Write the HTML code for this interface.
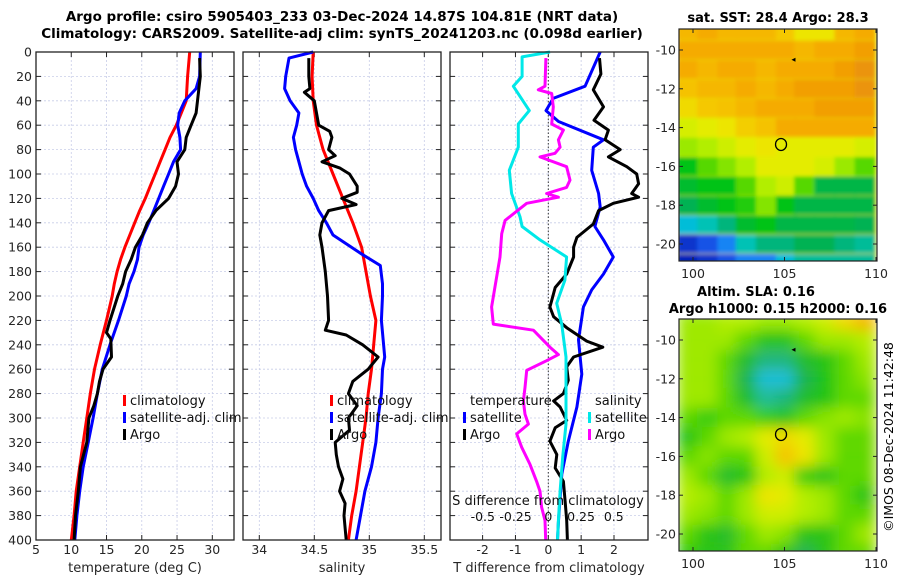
<!DOCTYPE html>
<html><head><meta charset="utf-8"><style>
html,body{margin:0;padding:0;background:#fff;}
svg{display:block;font-family:"DejaVu Sans","Liberation Sans",sans-serif;}
</style></head><body>
<svg id="fig" width="900" height="580" viewBox="0 0 900 580" xmlns="http://www.w3.org/2000/svg">
<defs>
<filter id="blur" x="0" y="0" width="1" height="1"><feGaussianBlur stdDeviation="7"/></filter>
<filter id="blur2" x="0" y="0" width="1" height="1"><feGaussianBlur stdDeviation="1.8"/></filter>
<clipPath id="clipTop"><rect x="679" y="29" width="198" height="232"/></clipPath>
<clipPath id="clipBot"><rect x="679" y="319" width="198" height="232"/></clipPath>
</defs>
<text x="342" y="21" font-size="13.5" font-weight="bold" text-anchor="middle">Argo profile: csiro 5905403_233 03-Dec-2024 14.87S 104.81E (NRT data)</text>
<text x="342" y="38" font-size="13.5" font-weight="bold" text-anchor="middle">Climatology: CARS2009. Satellite-adj clim: synTS_20241203.nc (0.098d earlier)</text>
<text x="778" y="22" font-size="13" font-weight="bold" text-anchor="middle">sat. SST: 28.4 Argo: 28.3</text>
<text x="756" y="296" font-size="13" font-weight="bold" text-anchor="middle">Altim. SLA: 0.16</text>
<text x="778" y="313" font-size="13" font-weight="bold" text-anchor="middle">Argo h1000: 0.15 h2000: 0.16</text>
<text transform="translate(893,437) rotate(-90)" font-size="12.5" text-anchor="middle">©IMOS 08-Dec-2024 11:42:48</text>
</svg>
<script>
// ---------- Temperature panel data ----------
const depthTClim = [0,20,30,40,50,60,70,80,90,100,110,120,130,140,150,160,170,180,190,200,220,240,260,280,300,320,340,360,380,400];
const tempClim = [26.8,26.5,26.4,26.3,25.6,24.9,24.0,23.3,22.6,21.9,21.2,20.5,19.7,19.0,18.3,17.6,17.0,16.5,16.1,15.8,15.0,14.1,13.3,12.7,12.2,11.7,11.2,10.7,10.4,10.0];
const tempSat = [28.3,28.2,27.7,26.1,25.3,25.1,25.4,25.5,24.5,23.8,23.1,22.4,21.7,21.0,20.2,19.6,19.4,18.9,18.2,17.8,16.7,15.5,14.4,13.7,13.1,12.4,11.7,11.2,10.8,10.5];
const depthTArgo = [5,20,30,40,50,60,70,80,90,100,110,120,130,140,150,160,170,180,190,200,220,230,235,250,260,270,280,290,300,320,340,360,380,400];
const tempArgo = [28.2,28.3,28.1,27.9,27.7,27.0,26.3,26.1,25.0,25.2,24.8,23.8,22.0,20.8,20.1,19.1,18.5,17.7,17.3,16.6,15.5,15.0,15.6,15.7,14.5,14.0,13.7,13.2,12.5,12.2,11.3,11.0,10.6,10.4];
const tempTicks = [5,10,15,20,25,30];
// ---------- Salinity panel data ----------
const depthSClim = [0,20,40,60,80,100,120,140,160,180,200,220,240,260,280,300,320,340,360,380,400];
const salClim = [34.49,34.48,34.49,34.52,34.58,34.67,34.76,34.85,34.93,34.97,35.01,35.06,35.04,35.02,34.99,34.97,34.94,34.91,34.88,34.84,34.81];
const depthSSat = [0,5,20,30,40,50,60,70,80,90,100,110,120,130,140,150,165,175,190,200,220,240,250,260,280,300,320,340,360,380,400];
const salSat = [34.49,34.27,34.24,34.23,34.28,34.36,34.34,34.31,34.33,34.36,34.39,34.43,34.49,34.54,34.61,34.67,34.92,35.10,35.12,35.12,35.11,35.13,35.14,35.12,35.11,35.08,35.06,35.02,34.96,34.92,34.88];
const depthSArgo = [5,20,30,33,40,50,60,65,70,80,85,90,95,100,110,115,120,125,130,140,150,160,180,200,220,228,232,240,250,260,270,280,290,300,310,320,330,340,350,360,370,380,400];
const salArgo = [34.45,34.45,34.46,34.41,34.50,34.52,34.54,34.64,34.66,34.63,34.69,34.57,34.73,34.82,34.89,34.89,34.75,34.88,34.63,34.57,34.55,34.57,34.60,34.62,34.63,34.60,34.79,34.94,35.08,34.99,34.85,34.81,34.89,34.81,34.82,34.69,34.70,34.72,34.76,34.73,34.78,34.77,34.79];
const salTicks = [34,34.5,35,35.5];
// ---------- Difference panel data ----------
const depthTdSat = [0,28,38,48,57,72,78,97,116,127,143,154,168,182,195,209,236,264,291,319,346,384,400];
const tDiffSat = [1.58,1.12,0.15,-0.07,0.31,1.68,1.37,1.32,1.53,1.58,1.42,1.68,1.98,1.68,1.32,1.07,0.92,1.02,0.87,0.61,0.41,0.31,0.28];
const depthTdArgo = [5,18,31,45,56,64,72,80,86,94,100,108,116,119,124,130,141,152,160,168,182,193,204,209,217,226,237,242,250,258,269,280,286,291,302,308,319,330,341,352,368,384,400];
const tDiffArgo = [1.56,1.60,1.37,1.68,1.39,1.83,1.73,2.19,1.83,2.39,2.69,2.75,2.54,2.75,1.98,1.53,1.37,0.87,0.77,0.77,0.56,0.21,0.10,0.05,0.16,0.56,1.17,1.66,0.77,0.56,0.61,0.46,0.16,0.36,0.56,0.21,0.05,0.26,0.21,0.46,0.51,0.56,0.58];
const depthSdSat = [0,4,20,28,48,59,78,97,116,135,143,154,168,187,206,223,250,278,305,332,360,384,400];
const sDiffSat = [0.013,-0.2,-0.2,-0.267,-0.145,-0.229,-0.229,-0.298,-0.28,-0.216,-0.2,-0.063,0.14,0.127,0.064,0.102,0.135,0.135,0.135,0.11,0.09,0.077,0.07];
const depthSdArgo = [5,28,31,34,45,59,64,72,78,83,86,94,105,111,116,119,124,138,149,168,209,223,228,242,248,253,261,275,286,297,305,313,324,338,352,360,373,384,400];
const sDiffArgo = [-0.018,-0.025,-0.076,0.026,0.038,0.026,0.115,0.077,0.09,0.051,-0.063,0.14,0.166,0.14,-0.013,0.077,-0.165,-0.33,-0.356,-0.369,-0.433,-0.42,-0.114,0.013,0.077,-0.013,-0.165,-0.178,-0.19,-0.178,-0.152,-0.241,-0.203,-0.14,-0.089,-0.063,-0.051,-0.025,-0.02];
const tDiffTicks = [-2,-1,0,1,2];
const sDiffTicks = [-0.5,-0.25,0,0.25,0.5];
const sDiffTickLabels = ["-0.5","-0.25","0","0.25","0.5"];
const depthTicks = [0,20,40,60,80,100,120,140,160,180,200,220,240,260,280,300,320,340,360,380,400];
// ---------- Map data (lat rows -9..-21, lon columns ~100..110) ----------
const mapLats = [-9,-10,-11,-12,-13,-14,-15,-16,-17,-18,-19,-20,-21];
const mapLons = [99.7,100.8,101.9,102.9,104.0,105.1,106.1,107.2,108.3,109.4];
const sstGrid = [
[.78,.80,.78,.78,.78,.75,.70,.70,.78,.80],
[.80,.80,.80,.80,.80,.80,.78,.80,.80,.82],
[.80,.78,.80,.80,.78,.80,.80,.80,.82,.84],
[.76,.78,.78,.80,.78,.80,.82,.82,.82,.84],
[.72,.75,.76,.78,.80,.80,.80,.82,.82,.82],
[.66,.68,.70,.74,.76,.80,.80,.80,.80,.80],
[.60,.62,.65,.68,.70,.68,.68,.68,.68,.66],
[.50,.55,.58,.62,.68,.68,.68,.66,.60,.55],
[.48,.50,.50,.55,.62,.65,.55,.46,.46,.46],
[.45,.48,.50,.52,.58,.50,.46,.46,.46,.46],
[.35,.38,.42,.48,.50,.46,.46,.46,.46,.45],
[.22,.25,.30,.38,.42,.42,.45,.45,.42,.40],
[.20,.22,.25,.30,.30,.35,.40,.40,.40,.40]];
const slaGrid = [
[.60,.60,.62,.62,.60,.60,.62,.65,.72,.78],
[.60,.60,.60,.55,.50,.50,.55,.60,.60,.62],
[.60,.60,.55,.48,.42,.42,.48,.50,.55,.60],
[.60,.60,.55,.45,.35,.35,.45,.50,.55,.58],
[.60,.60,.55,.48,.40,.42,.48,.50,.55,.55],
[.55,.52,.55,.55,.52,.50,.55,.58,.60,.58],
[.50,.55,.60,.62,.68,.72,.68,.60,.55,.55],
[.55,.58,.55,.55,.65,.76,.70,.60,.55,.55],
[.60,.55,.48,.50,.62,.65,.52,.50,.55,.55],
[.62,.60,.55,.60,.70,.68,.62,.60,.55,.50],
[.60,.58,.55,.60,.65,.65,.62,.60,.55,.55],
[.55,.50,.48,.55,.60,.58,.50,.50,.55,.60],
[.52,.50,.50,.55,.55,.50,.45,.50,.55,.55]];
const argoLon = 104.81, argoLat = -14.87;
const mapLonTicks = [100,105,110];
const mapLatTicks = [-10,-12,-14,-16,-18,-20];

const NS = "http://www.w3.org/2000/svg";
const svg = document.getElementById('fig');
function mk(tag, attrs, parent){const e=document.createElementNS(NS,tag);for(const k in attrs)e.setAttribute(k,attrs[k]);(parent||svg).appendChild(e);return e;}
const Y0=52, Y1=540;
const yD = d => Y0 + (d/400)*(Y1-Y0);
function lin(d0,d1,r0,r1){return v=>r0+(v-d0)/(d1-d0)*(r1-r0);}

function panel(name,x0,x1,xs,ticks,tickLabels,xlabel,showDepth){
  const g=mk('g',{});
  
  
  depthTicks.forEach(d=>{
    const l=mk('line',{x1:x0,x2:x1,y1:yD(d),y2:yD(d),stroke:'#c8cde8','stroke-width':0.8,'stroke-dasharray':'2,2'},g);
    
    
    mk('line',{x1:x0,x2:x0+5,y1:yD(d),y2:yD(d),stroke:'#222'},g);
    mk('line',{x1:x1-5,x2:x1,y1:yD(d),y2:yD(d),stroke:'#222'},g);
    if(showDepth){
      const t=mk('text',{x:x0-4,y:yD(d)+4.5,'font-size':12.5,'text-anchor':'end',fill:'#262626'},g);
      t.textContent=d;
      
      
    }
  });
  ticks.forEach((v,i)=>{
    const x=xs(v);
    const l=mk('line',{x1:x,x2:x,y1:Y0,y2:Y1,stroke:'#c8cde8','stroke-width':0.8,'stroke-dasharray':'2,2'},g);
    
    
    mk('line',{x1:x,x2:x,y1:Y1-5,y2:Y1,stroke:'#222'},g);
    mk('line',{x1:x,x2:x,y1:Y0,y2:Y0+5,stroke:'#222'},g);
    const t=mk('text',{x:x,y:554,'font-size':12.5,'text-anchor':'middle',fill:'#262626'},g);
    t.textContent=tickLabels[i];
    
    
  });
  const t=mk('text',{x:(x0+x1)/2,y:572,'font-size':13,'text-anchor':'middle',fill:'#262626'},g);
  t.textContent=xlabel;
  
  
  return g;
}
function frame(name,x0,x1){
  const r=mk('rect',{x:x0,y:Y0,width:x1-x0,height:Y1-Y0,fill:'none',stroke:'#222','stroke-width':1.3});
  
  
}
function series(name,depths,vals,xs,color,w){
  const pts=vals.map((v,i)=>xs(v).toFixed(1)+','+yD(depths[i]).toFixed(1)).join(' ');
  const p=mk('polyline',{points:pts,fill:'none',stroke:color,'stroke-width':w||3,'stroke-linejoin':'round'});
  
  
}
function legendEntry(name,x,y,color,label){
  const g=mk('g',{});
  
  
  if(color) mk('rect',{x:x,y:y-10,width:3,height:11,fill:color},g);
  const t=mk('text',{x:x+7,y:y,'font-size':13,fill:'#111'},g);
  t.textContent=label;
}

// Temperature panel
const xT=lin(5,30,36,212.3);
panel('temperature-panel',36,234,xT,tempTicks,tempTicks.map(String),'temperature (deg C)',true);
series('temp-climatology-line',depthTClim,tempClim,xT,'#ff0000');
series('temp-satellite-line',depthTClim,tempSat,xT,'#0000ff');
series('temp-argo-line',depthTArgo,tempArgo,xT,'#000000');
legendEntry('legend-climatology',123,405,'#ff0000','climatology');
legendEntry('legend-satellite-adj',123,422,'#0000ff','satellite-adj. clim');
legendEntry('legend-argo',123,439,'#000000','Argo');
frame('temperature-axes-frame',36,234);

// Salinity panel
const xS=lin(34,35.5,259.3,424.3);
panel('salinity-panel',243,441,xS,salTicks,salTicks.map(String),'salinity',false);
series('sal-climatology-line',depthSClim,salClim,xS,'#ff0000');
series('sal-satellite-line',depthSSat,salSat,xS,'#0000ff');
series('sal-argo-line',depthSArgo,salArgo,xS,'#000000');
legendEntry('legend-sal-climatology',330,405,'#ff0000','climatology');
legendEntry('legend-sal-satellite-adj',330,422,'#0000ff','satellite-adj. clim');
legendEntry('legend-sal-argo',330,439,'#000000','Argo');
frame('salinity-axes-frame',243,441);

// Difference panel
const xTd=lin(0,2,548.3,614);
const xSd=lin(0,0.5,548.3,613.8);
panel('difference-panel',450,648,xTd,tDiffTicks,tDiffTicks.map(String),'T difference from climatology',false);
const zl=mk('line',{x1:xTd(0),x2:xTd(0),y1:Y0,y2:Y1,stroke:'#333','stroke-width':1,'stroke-dasharray':'1.5,2'});


series('tdiff-satellite-line',depthTdSat,tDiffSat,xTd,'#0000ff');
series('tdiff-argo-line',depthTdArgo,tDiffArgo,xTd,'#000000');
series('sdiff-satellite-line',depthSdSat,sDiffSat,xSd,'#00e8e8');
series('sdiff-argo-line',depthSdArgo,sDiffArgo,xSd,'#ff00ff');
legendEntry('legend-temperature-header',463,405,null,'temperature');
legendEntry('legend-tdiff-satellite',463,422,'#0000ff','satellite');
legendEntry('legend-tdiff-argo',463,439,'#000000','Argo');
legendEntry('legend-salinity-header',588,405,null,'salinity');
legendEntry('legend-sdiff-satellite',588,422,'#00e8e8','satellite');
legendEntry('legend-sdiff-argo',588,439,'#ff00ff','Argo');
const st=mk('text',{x:548,y:505,'font-size':13,'text-anchor':'middle',fill:'#111'});
st.textContent='S difference from climatology';


sDiffTicks.forEach((v,i)=>{
  const t=mk('text',{x:xSd(v),y:521,'font-size':12.5,'text-anchor':'middle',fill:'#111'});
  t.textContent=sDiffTickLabels[i];
  
  
});
frame('difference-axes-frame',450,648);

// ---------- Maps ----------
const cstops=[[0.18,[0,16,170]],[0.28,[30,110,255]],[0.36,[0,200,210]],[0.44,[0,175,95]],[0.5,[0,195,20]],[0.57,[120,225,0]],[0.63,[190,240,0]],[0.69,[235,235,0]],[0.75,[245,200,0]],[0.81,[245,165,0]],[0.87,[225,130,20]]];
function cmap(v){
  if(v<=cstops[0][0])return 'rgb('+cstops[0][1]+')';
  for(let i=1;i<cstops.length;i++){
    if(v<=cstops[i][0]){const a=cstops[i-1],b=cstops[i],f=(v-a[0])/(b[0]-a[0]);
      return 'rgb('+a[1].map((c,j)=>Math.round(c+(b[1][j]-c)*f)).join(',')+')';}
  }
  return 'rgb('+cstops[cstops.length-1][1]+')';
}
function drawMap(name,grid,top,clip,filt){
  const xM=lin(100,110,693,876), yM=lin(-10,-20,top+21,top+215);
  const g=mk('g',{'clip-path':'url(#'+clip+')'});
  
  
  const gi=mk('g',{filter:'url(#'+filt+')'},g);
  mk('rect',{x:679,y:top,width:198,height:232,fill:cmap(grid[6][5])},gi);
  const cw=(877-679)/mapLons.length, ch=(232)/mapLats.length;
  grid.forEach((row,r)=>row.forEach((v,c)=>{
    const cell=mk('rect',{x:(xM(mapLons[c])-cw/2-0.5).toFixed(1),y:(yM(mapLats[r])-ch/2-0.5).toFixed(1),width:(cw+1).toFixed(1),height:(ch+1).toFixed(1),fill:cmap(v)},gi);
    
    
  }));
  const c=mk('ellipse',{cx:xM(argoLon),cy:yM(argoLat),rx:5.5,ry:6,fill:'none',stroke:'#000','stroke-width':1.3},g);
  
  
  const a=mk('path',{d:'M'+(xM(105.6)-4)+','+(yM(-10.5))+' l4,-2 l0,4 z',fill:'#000'},g);
  
  
  const f=mk('rect',{x:679,y:top,width:198,height:232,fill:'none',stroke:'#222','stroke-width':1.2});
  
  
  mapLatTicks.forEach(v=>{
    const y=yM(v);
    mk('line',{x1:679,x2:683,y1:y,y2:y,stroke:'#222'});
    mk('line',{x1:873,x2:877,y1:y,y2:y,stroke:'#222'});
    const t=mk('text',{x:676,y:y+4.5,'font-size':12.5,'text-anchor':'end',fill:'#262626'});
    t.textContent=v;
    
    
  });
  mapLonTicks.forEach(v=>{
    const x=xM(v);
    mk('line',{x1:x,x2:x,y1:top+228,y2:top+232,stroke:'#222'});
    mk('line',{x1:x,x2:x,y1:top,y2:top+4,stroke:'#222'});
    const t=mk('text',{x:x,y:top+249,'font-size':12.5,'text-anchor':'middle',fill:'#262626'});
    t.textContent=v;
    
    
  });
}
drawMap('sst-map',sstGrid,29,'clipTop','blur2');
drawMap('sla-map',slaGrid,319,'clipBot','blur');
</script>
</body></html>
